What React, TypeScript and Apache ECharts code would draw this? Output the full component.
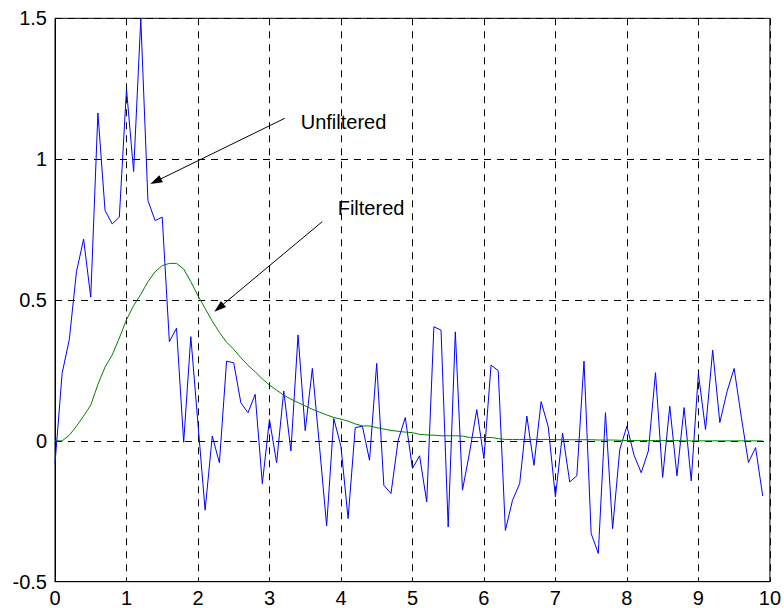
import React, { useEffect, useRef } from "react";
import * as echarts from "echarts";

// Sample times: 0 .. 9.9 s in 0.1 s steps
const sampleTimes: number[] = Array.from({ length: 100 }, (_, i) => i / 10);

// Raw (unfiltered) signal
const unfiltered: number[] = [
  -0.08, 0.24, 0.36, 0.6, 0.716, 0.51, 1.164, 0.818, 0.77, 0.794,
  1.249, 0.956, 1.498, 0.853, 0.782, 0.794, 0.352, 0.4, -0.005, 0.37,
  0.06, -0.246, 0.017, -0.078, 0.283, 0.277, 0.135, 0.1, 0.165, -0.152,
  0.076, -0.078, 0.177, -0.036, 0.376, 0.036, 0.257, -0.02, -0.302, 0.079,
  -0.02, -0.276, 0.047, 0.052, -0.069, 0.275, -0.158, -0.187, 0.002, 0.083,
  -0.098, -0.053, -0.217, 0.405, 0.393, -0.306, 0.387, -0.175, -0.04, 0.111,
  -0.063, 0.269, 0.249, -0.318, -0.211, -0.152, 0.088, -0.087, 0.139, 0.05,
  -0.199, 0.028, -0.146, -0.124, 0.283, -0.329, -0.4, 0.1, -0.312, -0.031,
  0.052, -0.051, -0.113, -0.036, 0.242, -0.13, 0.123, -0.124, 0.118, -0.142,
  0.239, 0.04, 0.322, 0.065, 0.174, 0.257, 0.085, -0.077, -0.024, -0.196,
];

// Low-pass filtered signal
const filtered: number[] = [
  0, 0, 0.02, 0.052, 0.088, 0.127, 0.2, 0.262, 0.305, 0.365,
  0.43, 0.48, 0.52, 0.565, 0.6, 0.622, 0.63, 0.63, 0.61, 0.565,
  0.515, 0.47, 0.425, 0.385, 0.35, 0.325, 0.295, 0.268, 0.245, 0.22,
  0.198, 0.18, 0.162, 0.148, 0.136, 0.124, 0.112, 0.102, 0.092, 0.083,
  0.077, 0.07, 0.06, 0.053, 0.053, 0.047, 0.042, 0.037, 0.034, 0.031,
  0.029, 0.023, 0.021, 0.02, 0.018, 0.018, 0.018, 0.017, 0.012, 0.012,
  0.012, 0.012, 0.008, 0.005, 0.005, 0.005, 0.005, 0.005, 0.005, 0.005,
  0.004, 0.004, 0.004, 0.004, 0.004, 0.004, 0.003, 0.003, 0.003, 0.002,
  0.001, 0.001, 0.001, 0.001, 0.001, 0.001, 0.001, 0.001, 0, 0,
  0, 0, 0, 0, 0, 0, 0, 0, 0, 0,
];

// Annotation arrows: [tail x, tail y] -> [head x, head y] in data units
const unfilteredArrow = { from: [3.214, 1.145], to: [1.409, 0.921] };
const filteredArrow = { from: [3.738, 0.778], to: [2.293, 0.472] };

const FONT = '"Liberation Sans", Arial, Helvetica, sans-serif';

export default function App() {
  const ref = useRef<HTMLDivElement>(null);

  useEffect(() => {
    if (!ref.current) return;
    const chart = echarts.init(ref.current, undefined, { renderer: "svg" });

    const gridLine = { color: "#000", width: 1, type: [7, 6] as number[] };

    const arrowLine = (a: { from: number[]; to: number[] }) => [
      { coord: a.from, symbol: "none" },
      { coord: a.to, symbol: "triangle" },
    ];

    chart.setOption({
      animation: false,
      backgroundColor: "#fff",
      grid: {
        left: 55,
        right: 11.3,
        top: 18.3,
        bottom: 26.3,
        show: true,
        borderColor: "#000",
        borderWidth: 1,
      },
      xAxis: {
        type: "value",
        min: 0,
        max: 10,
        interval: 1,
        axisLine: { show: true, onZero: false, lineStyle: { color: "#000", width: 1 } },
        axisTick: { show: false },
        splitLine: { show: true, lineStyle: gridLine },
        axisLabel: { color: "#000", fontSize: 20, fontFamily: FONT, margin: 6 },
      },
      yAxis: {
        type: "value",
        min: -0.5,
        max: 1.5,
        interval: 0.5,
        axisLine: { show: true, onZero: false, lineStyle: { color: "#000", width: 1 } },
        axisTick: { show: false },
        splitLine: { show: true, lineStyle: gridLine },
        axisLabel: {
          color: "#000",
          fontSize: 20,
          fontFamily: FONT,
          margin: 8,
          formatter: (v: number) => String(v),
        },
      },
      series: [
        {
          name: "Unfiltered",
          type: "line",
          data: sampleTimes.map((t, i) => [t, unfiltered[i]]),
          showSymbol: false,
          lineStyle: { color: "#0000ff", width: 1 },
          itemStyle: { color: "#0000ff" },
          silent: true,
          markLine: {
            silent: true,
            animation: false,
            symbolSize: [8, 12],
            lineStyle: { color: "#000", width: 1, type: "solid" },
            itemStyle: { color: "#000" },
            label: { show: false },
            emphasis: { disabled: true },
            data: [arrowLine(unfilteredArrow), arrowLine(filteredArrow)],
          },
        },
        {
          name: "Filtered",
          type: "line",
          data: sampleTimes.map((t, i) => [t, filtered[i]]),
          showSymbol: false,
          lineStyle: { color: "#008000", width: 1 },
          itemStyle: { color: "#008000" },
          silent: true,
        },
      ],
      graphic: [
        {
          type: "text",
          x: 300.7,
          y: 122,
          style: {
            text: "Unfiltered",
            fill: "#000",
            font: `20px ${FONT}`,
            textAlign: "left",
            textVerticalAlign: "middle",
          },
        },
        {
          type: "text",
          x: 337.7,
          y: 208.4,
          style: {
            text: "Filtered",
            fill: "#000",
            font: `20px ${FONT}`,
            textAlign: "left",
            textVerticalAlign: "middle",
          },
        },
      ],
    });

    return () => chart.dispose();
  }, []);

  return (
    <div
      ref={ref}
      style={{ width: 784, height: 608, position: "absolute", left: 0, top: 0 }}
    />
  );
}
